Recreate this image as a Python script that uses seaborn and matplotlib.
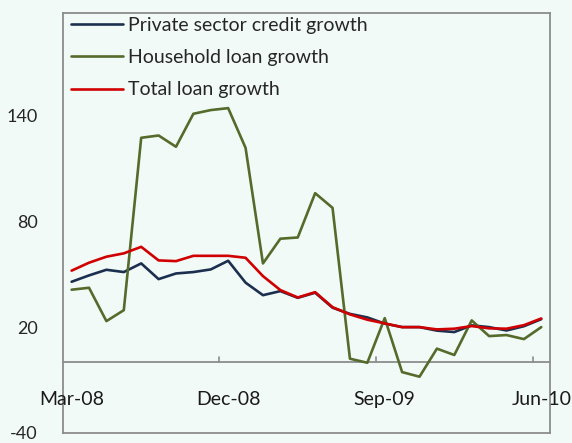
import matplotlib
matplotlib.use("Agg")
import matplotlib.pyplot as plt
import seaborn as sns
import pandas as pd
import numpy as np

months = ["Mar-08","Apr-08","May-08","Jun-08","Jul-08","Aug-08","Sep-08","Oct-08","Nov-08",
          "Dec-08","Jan-09","Feb-09","Mar-09","Apr-09","May-09","Jun-09","Jul-09","Aug-09",
          "Sep-09","Oct-09","Nov-09","Dec-09","Jan-10","Feb-10","Mar-10","Apr-10","May-10","Jun-10"]
private_credit = [45.7, 49.3, 52.5, 51.2, 56.1, 47.2, 50.4, 51.2, 52.7, 57.6, 45.2, 38.1, 40.4, 36.6,
                  39.5, 31.0, 27.5, 25.5, 22.0, 20.0, 20.0, 18.0, 17.2, 21.0, 20.0, 18.1, 20.5, 24.5]
household_loan = [41.2, 42.3, 23.4, 29.6, 127.3, 128.6, 122.2, 140.9, 143.0, 144.1, 121.6, 56.1, 70.1, 70.8,
                  95.9, 87.6, 2.1, -0.2, 25.1, -5.5, -8.1, 7.8, 4.2, 23.8, 14.9, 15.5, 13.2, 20.0]
total_loan = [52.0, 56.5, 59.9, 61.8, 65.5, 57.8, 57.4, 60.4, 60.4, 60.4, 59.3, 48.9, 41.0, 36.8,
              39.8, 31.3, 27.2, 24.2, 22.1, 20.0, 20.0, 18.7, 19.1, 20.6, 19.3, 19.1, 21.1, 24.9]
series_names = ["Private sector credit growth", "Household loan growth", "Total loan growth"]
y_ticks = [-40, 20, 80, 140]
x_label_months = ["Mar-08", "Dec-08", "Sep-09", "Jun-10"]

colors = ["#1c2f4f", "#556b2b", "#d00000"]
bg = "#f2faf7"

sns.set_theme(style="white")
plt.rcParams["font.family"] = ["Lato", "DejaVu Sans"]

idx = np.arange(len(months))
df = pd.concat([
    pd.DataFrame({"x": idx, "value": vals, "series": name})
    for name, vals in zip(series_names, [private_credit, household_loan, total_loan])
])

fig = plt.figure(figsize=(5.72, 4.43), dpi=100, facecolor=bg)
ax = fig.add_axes([0.110, 0.0226, 0.8515, 0.948])
ax.set_facecolor(bg)

sns.lineplot(data=df, x="x", y="value", hue="series", hue_order=series_names,
             palette=colors, linewidth=1.9, ax=ax, legend=True)

ax.set_xlim(-0.5, len(months) - 0.5)
ax.set_ylim(-40, 198)
ax.set_xlabel("")
ax.set_ylabel("")

for sp in ax.spines.values():
    sp.set_color("#8c8c8c")
    sp.set_linewidth(1.3)

ax.set_yticks(y_ticks)
ax.set_yticklabels([str(t) for t in y_ticks], fontsize=13)
ax.tick_params(axis="y", direction="in", length=5, width=1.2, color="#8c8c8c", pad=18)
ax.set_xticks([])

# zero line with category-boundary ticks
ax.axhline(0, color="#8c8c8c", linewidth=1.3, zorder=1)
for m in x_label_months:
    i = months.index(m)
    if i > 0:
        ax.plot([i - 0.5, i - 0.5], [0, 3], color="#8c8c8c", linewidth=1.2, zorder=1)
    ax.text(i, -21, m, ha="center", va="center", fontsize=14, color="#1a1a1a")

ax.text(-0.155, 0.955, "%", transform=ax.transAxes, ha="center", va="center", fontsize=14)

leg = ax.legend(loc="upper left", bbox_to_anchor=(0.0, 1.009), frameon=False,
                fontsize=14, handlelength=2.7, handletextpad=0.25, labelspacing=0.78,
                borderaxespad=0.0)
for line in leg.get_lines():
    line.set_linewidth(1.9)

fig.savefig("out.png", dpi=100, facecolor=bg)
